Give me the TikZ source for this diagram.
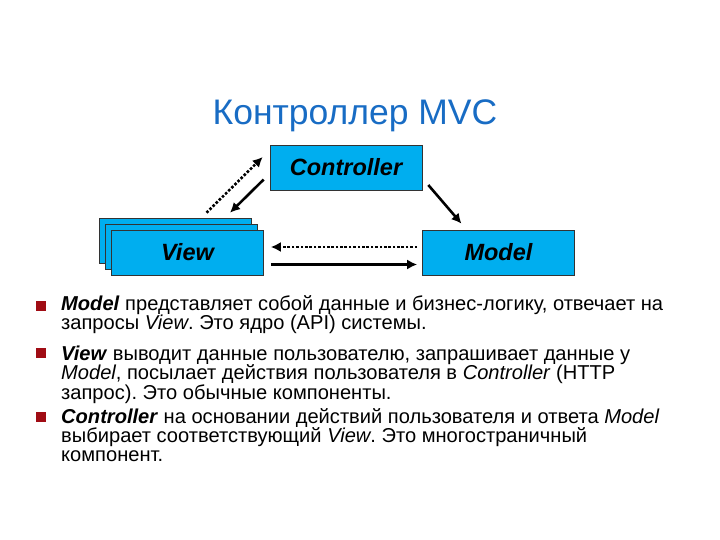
\documentclass[tikz,border=0pt]{standalone}
\usepackage{fontspec}
\setmainfont{Liberation Sans}
\usetikzlibrary{positioning}
\usetikzlibrary{arrows.meta}
\usetikzlibrary{calc}

\definecolor{titleblue}{RGB}{24,108,196}
\definecolor{boxblue}{RGB}{0,174,239}
\definecolor{bulletred}{RGB}{160,12,20}

\newcommand{\parafont}{\fontsize{20.1bp}{19.2bp}\selectfont\frenchspacing\lineskiplimit=-20pt\relax}

\tikzset{
  mvcbox/.style={draw=black!80, fill=boxblue, line width=0.6pt,
    minimum width=152bp, minimum height=45bp, inner sep=0pt,
    font=\fontsize{23.5bp}{26bp}\selectfont\bfseries\itshape},
  flow/.style={line width=2.6pt, -{Latex[length=10bp,width=10bp]}},
  flowdot/.style={flow, dash pattern=on 2.6pt off 1.8pt},
  bullet/.style={fill=bulletred, minimum size=10bp, inner sep=0pt},
  para/.style={anchor=north west, inner sep=0pt, align=left, font=\parafont}
}

\begin{document}
\begin{tikzpicture}[x=1bp, y=-1bp]
\useasboundingbox (0,0) rectangle (720,540);

\node[text=titleblue, font=\fontsize{35.5bp}{40bp}\selectfont] (title) at (355,116) {Контроллер MVC};

% boxes
\node[mvcbox] (ctrl) at (346,167.5) {Controller};
\node[mvcbox] (viewback) at (175.5,240.5) {};
\node[mvcbox] (viewmid) at (181.5,246.5) {};
\node[mvcbox] (view) at (187.5,252.5) {View};
\node[mvcbox] (model) at (498.5,252.5) {Model};

% arrows
\draw[flowdot] ($(viewback.north)+(31,-5)$) -- ($(ctrl.west)+(-7,-10.5)$);
\draw[flow] ($(ctrl.west)+(-6,12)$) -- ($(viewback.north)+(54.5,-5)$);
\draw[flow] ($(ctrl.east)+(6,17.5)$) -- ($(model.north)+(-37,-6)$);
\draw[flowdot] ($(model.west)+(-5,-5.5)$) -- ($(view.east)+(7,-5.5)$);
\draw[flow] ($(view.east)+(7,12)$) -- ($(model.west)+(-5,12)$);

% text
\node[bullet] (b1) at (40.5,305.5) {};
\node[bullet] (b2) at (40.5,353) {};
\node[bullet] (b3) at (40.5,417) {};

\node[para] (p1) at (61,295) {\strut\textbf{\textit{Model}} представляет собой данные и бизнес-логику, отвечает на\\
запросы \textit{View}. Это ядро (API) системы.};
\node[para] (p2) at (61,346) {\strut\textbf{\textit{View}} выводит данные пользователю, запрашивает данные у\\
\textit{Model}, посылает действия пользователя в \textit{Controller} (HTTP\\
запрос). Это обычные компоненты.};
\node[para] (p3) at (61,408) {\strut\textbf{\textit{Controller}} на основании действий пользователя и ответа \textit{Model}\\
выбирает соответствующий \textit{View}. Это многостраничный\\
компонент.};
\end{tikzpicture}
\end{document}
